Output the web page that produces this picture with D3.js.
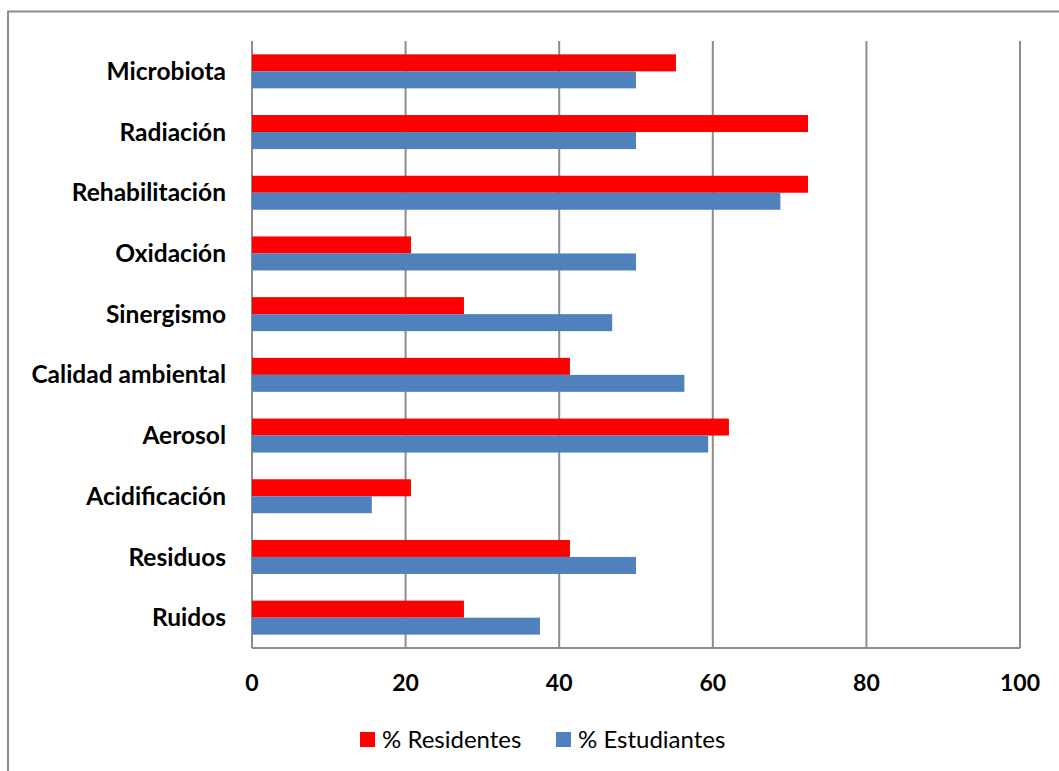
<!DOCTYPE html>
<html>
<head>
<meta charset="utf-8">
<script src="https://cdn.jsdelivr.net/npm/d3@7"></script>
<style>
  body { margin: 0; background: #fff; }
  svg { display: block; font-family: Lato, "Open Sans", sans-serif; }
</style>
</head>
<body>
<div id="chart"></div>
<script>
// data (top to bottom)
const categories = ["Microbiota", "Radiación", "Rehabilitación", "Oxidación", "Sinergismo",
  "Calidad ambiental", "Aerosol", "Acidificación", "Residuos", "Ruidos"];
const residentes = [55.2, 72.4, 72.4, 20.7, 27.6, 41.4, 62.1, 20.7, 41.4, 27.6];
const estudiantes = [50, 50, 68.8, 50, 46.9, 56.3, 59.4, 15.6, 50, 37.5];
const xTicks = [0, 20, 40, 60, 80, 100];
const seriesNames = ["% Residentes", "% Estudiantes"];
const colors = ["#ff0000", "#4f81bd"];

const W = 1059, H = 771;
const margin = { top: 41, right: 39, bottom: 123, left: 252 },
  width = W - margin.left - margin.right,
  height = H - margin.top - margin.bottom;

const svg = d3.select("#chart").append("svg")
  .attr("width", W).attr("height", H);

// outer frame (cut off at right and bottom)
svg.append("path")
  .attr("d", `M8,${H} V11.5 H${W}`)
  .attr("fill", "none").attr("stroke", "#8c8c8c").attr("stroke-width", 2);

const g = svg.append("g").attr("transform", `translate(${margin.left},${margin.top})`);

const x = d3.scaleLinear().domain([0, 100]).range([0, width]);
const y = d3.scaleBand().domain(categories).range([0, height]);
const barH = 17;

// gridlines
g.append("g").selectAll("line").data(xTicks).join("line")
  .attr("x1", d => x(d)).attr("x2", d => x(d))
  .attr("y1", 0).attr("y2", height)
  .attr("stroke", "#8c8c8c").attr("stroke-width", 2);

// bottom axis line
g.append("line").attr("x1", 0).attr("x2", width)
  .attr("y1", height).attr("y2", height)
  .attr("stroke", "#8c8c8c").attr("stroke-width", 2);

const series = [residentes, estudiantes];
series.forEach((vals, s) => {
  g.append("g").selectAll("rect").data(categories).join("rect")
    .attr("x", x(0))
    .attr("y", (d) => y(d) + y.bandwidth() / 2 - barH + s * barH)
    .attr("width", (d, i) => x(vals[i]) - x(0))
    .attr("height", barH)
    .attr("fill", colors[s]);
});

// category labels
g.append("g").selectAll("text").data(categories).join("text")
  .attr("x", -26)
  .attr("y", d => y(d) + y.bandwidth() / 2)
  .attr("dy", "0.35em")
  .attr("text-anchor", "end")
  .attr("font-size", 24.5)
  .attr("font-weight", "bold")
  .attr("fill", "#000")
  .text(d => d);

// x tick labels
g.append("g").selectAll("text").data(xTicks).join("text")
  .attr("x", d => x(d))
  .attr("y", height + 35)
  .attr("dy", "0.35em")
  .attr("text-anchor", "middle")
  .attr("font-size", 23)
  .attr("font-weight", "bold")
  .text(d => d);

// legend
const legendX = [360, 556];
const legend = svg.append("g").selectAll("g").data(seriesNames).join("g")
  .attr("transform", (d, i) => `translate(${legendX[i]},732)`);
legend.append("rect").attr("width", 15).attr("height", 15)
  .attr("fill", (d, i) => colors[i]);
legend.append("text").attr("x", 22).attr("y", 8).attr("dy", "0.35em")
  .attr("font-size", 24).attr("fill", "#000")
  .text(d => d);
</script>
</body>
</html>
